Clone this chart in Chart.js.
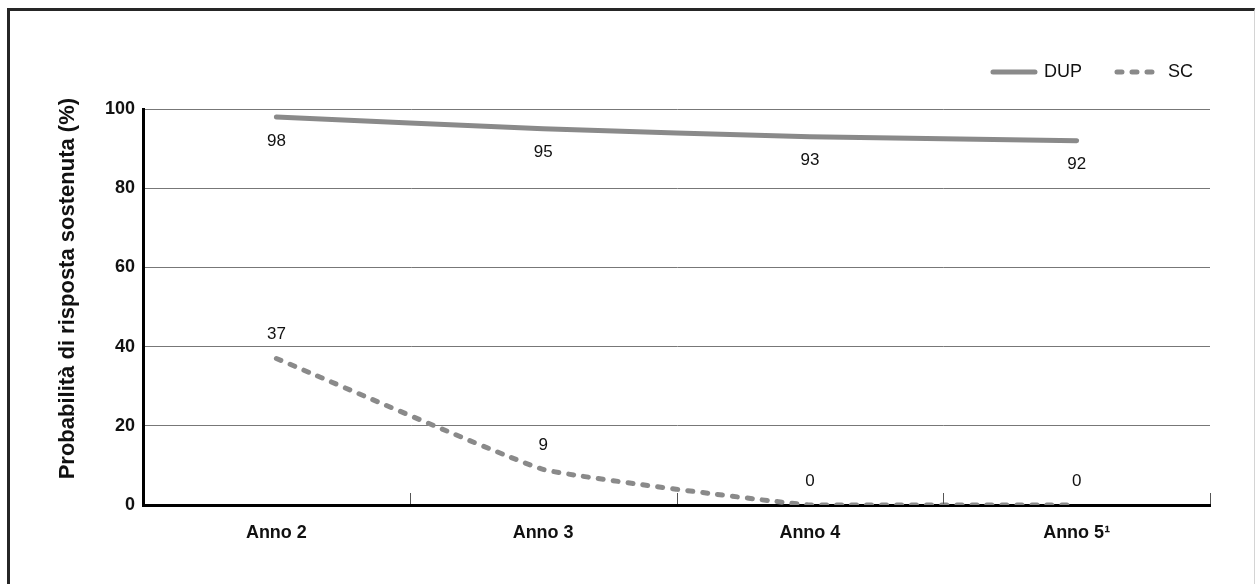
<!DOCTYPE html>
<html>
<head>
<meta charset="utf-8">
<script src="https://cdn.jsdelivr.net/npm/chart.js@4/dist/chart.umd.min.js"></script>
<style>
  html, body { margin: 0; padding: 0; background: #fff; }
  #wrap { position: relative; width: 1255px; height: 584px; }
  #frame {
    position: absolute; left: 7px; top: 8px; right: 0; bottom: -10px;
    border-top: 3px solid #262626; border-left: 3px solid #262626;
    border-right: 1px solid #d4d4d4; pointer-events: none;
  }
</style>
</head>
<body>
<div id="wrap">
  <canvas id="lineChart" width="1255" height="584"></canvas>
  <div id="frame"></div>
</div>
<script>
const years = ['Anno 2', 'Anno 3', 'Anno 4', 'Anno 5\u00B9'];
const dupValues = [98, 95, 93, 92];
const scValues = [37, 9, 0, 0];
const yTicks = [0, 20, 40, 60, 80, 100];

const lineGrey = '#8a8a8a';
const font = "'Liberation Sans', Arial, sans-serif";

// value labels: DUP under the line, SC above it
const valueLabels = {
    id: 'valueLabels',
    afterDatasetsDraw(chart) {
        const ctx = chart.ctx;
        ctx.save();
        ctx.font = '17px ' + font;
        ctx.fillStyle = '#111';
        ctx.textAlign = 'center';
        ctx.textBaseline = 'middle';
        chart.data.datasets.forEach((ds, i) => {
            const meta = chart.getDatasetMeta(i);
            meta.data.forEach((pt, j) => {
                const dy = i === 0 ? 24 : -24;
                ctx.fillText(String(ds.data[j]), pt.x, pt.y + dy);
            });
        });
        ctx.restore();
    }
};

// small upward tick marks between categories
const categoryTicks = {
    id: 'categoryTicks',
    afterDraw(chart) {
        const x = chart.scales.x;
        const ctx = chart.ctx;
        const bottom = chart.chartArea.bottom;
        ctx.save();
        ctx.strokeStyle = '#555';
        ctx.lineWidth = 1;
        for (let i = 1; i <= years.length; i++) {
            const px = Math.round(x.getPixelForValue(i - 0.5)) + 0.5;
            ctx.beginPath();
            ctx.moveTo(px, bottom - 1);
            ctx.lineTo(px, bottom - 12);
            ctx.stroke();
        }
        ctx.restore();
    }
};

// legend: more room below it, and pushed slightly right
const legendSpace = {
    id: 'legendSpace',
    beforeInit(chart) {
        const fit = chart.legend.fit;
        chart.legend.fit = function() {
            fit.bind(chart.legend)();
            this.height += 18;
        };
    },
    afterLayout(chart) {
        chart.legend.right += 18;
        chart.legend.width += 18;
    }
};

const ctx = document.getElementById('lineChart').getContext('2d');
new Chart(ctx, {
    type: 'line',
    data: {
        labels: years,
        datasets: [{
            label: 'DUP',
            data: dupValues,
            borderColor: lineGrey,
            backgroundColor: lineGrey,
            borderWidth: 5,
            borderCapStyle: 'round',
            pointRadius: 0,
            tension: 0.1
        }, {
            label: 'SC',
            data: scValues,
            borderColor: lineGrey,
            backgroundColor: lineGrey,
            borderWidth: 5,
            borderDash: [5, 10],
            borderCapStyle: 'round',
            pointRadius: 0,
            tension: 0.1
        }]
    },
    options: {
        responsive: false,
        animation: false,
        layout: { padding: { top: 28, right: 45, left: 51, bottom: 0 } },
        plugins: {
            legend: {
                position: 'top',
                align: 'end',
                labels: {
                    usePointStyle: true,
                    pointStyle: 'line',
                    pointStyleWidth: 42,
                    padding: 35,
                    color: '#111',
                    font: { family: font, size: 18 },
                    generateLabels: function(chart) {
                        const items = Chart.defaults.plugins.legend.labels.generateLabels(chart);
                        return items.map(item => {
                            const ds = chart.data.datasets[item.datasetIndex];
                            item.lineDash = ds.borderDash || [];
                            item.lineWidth = 5;
                            item.lineCap = 'round';
                            item.strokeStyle = lineGrey;
                            return item;
                        });
                    }
                }
            },
            tooltip: { enabled: false }
        },
        scales: {
            x: {
                offset: true,
                grid: { display: false, drawTicks: false },
                border: { color: '#000', width: 3 },
                ticks: {
                    padding: 17,
                    color: '#111',
                    font: { family: font, size: 18, weight: 'bold' }
                },
                afterFit: scale => { scale.height = 79; }
            },
            y: {
                min: 0,
                max: 100,
                afterBuildTicks: scale => { scale.ticks = yTicks.map(v => ({ value: v })); },
                grid: { color: '#777', lineWidth: 1, drawTicks: false },
                border: { color: '#000', width: 3 },
                ticks: {
                    padding: 8,
                    color: '#111',
                    font: { family: font, size: 18, weight: 'bold' }
                },
                title: {
                    display: true,
                    // leading spaces lift the title a little, as in the original
                    text: '\u00A0\u00A0\u00A0\u00A0\u00A0\u00A0Probabilità di risposta sostenuta (%)',
                    color: '#111',
                    font: { family: font, size: 22, weight: 'bold' }
                },
                afterFit: scale => { scale.width = 92; }
            }
        }
    },
    plugins: [valueLabels, categoryTicks, legendSpace]
});
</script>
</body>
</html>
